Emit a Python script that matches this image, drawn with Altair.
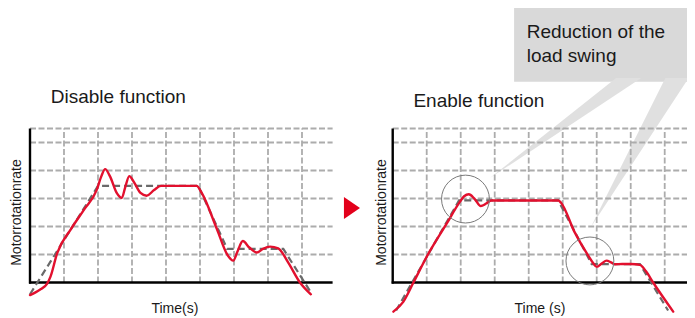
import altair as alt
import pandas as pd

# ---------------- data ----------------
# Left panel: "Disable function" (motor rotation rate vs time, grid units)
dis_x = [0.0, 0.3, 0.5, 0.6, 0.8, 1.2, 1.6, 1.96, 2.1, 2.21, 2.35, 2.55, 2.7,
         2.8, 2.92, 3.05, 3.25, 3.43, 3.65, 3.85, 4.9, 5.05, 5.5, 5.8, 5.98,
         6.1, 6.26, 6.45, 6.67, 6.85, 7.06, 7.3, 7.6, 7.94, 8.26]
dis_y = [-0.45, -0.25, -0.05, 0.2, 1.05, 1.9, 2.62, 3.3, 3.8, 4.05, 3.8, 3.2,
         3.02, 3.4, 3.8, 3.6, 3.2, 3.1, 3.3, 3.45, 3.45, 3.2, 1.9, 1.0, 0.78,
         1.1, 1.48, 1.25, 1.07, 1.2, 1.28, 1.22, 0.7, 0.0, -0.42]
dis_ref_x = [0.0, 2.0, 4.95, 5.8, 7.45, 8.26]
dis_ref_y = [-0.42, 3.45, 3.45, 1.2, 1.2, -0.35]

# Right panel: "Enable function"
en_x = [0.02, 0.31, 0.61, 1.0, 1.59, 1.98, 2.1, 2.24, 2.4, 2.59, 2.75, 2.9,
        3.2, 4.87, 4.95, 5.35, 5.71, 5.9, 6.0, 6.15, 6.29, 6.42, 6.54, 6.75,
        7.0, 7.27, 7.45, 7.66, 8.25]
en_y = [-1.04, -0.69, 0.0, 0.92, 2.11, 2.89, 3.08, 3.15, 3.0, 2.73, 2.82,
        2.93, 2.93, 2.93, 2.85, 1.8, 1.04, 0.69, 0.56, 0.68, 0.78, 0.72, 0.65,
        0.66, 0.66, 0.63, 0.4, 0.0, -1.04]
en_ref_x = [0.1, 1.95, 4.87, 5.85, 7.27, 8.1]
en_ref_y = [-1.0, 2.93, 2.93, 0.66, 0.66, -1.0]

grid_y = [1, 2, 3, 4, 5, 5.5]
grid_x = [1, 2, 3, 4, 5, 6, 7, 8]

panel_titles = ["Disable function", "Enable function"]
x_titles = ["Time(s)", "Time (s)"]
y_title = "Motorrotationrate"
callout_lines = ["Reduction of the", "load swing"]

# ---------------- layout (data-space placement) ----------------
W, H = 679, 310
XMIN = -0.647
XMAX = XMIN + W / 34.0
YMAX = 9.804
YMIN = YMAX - H / 28.0
OFF = 10.668          # horizontal offset of the right panel
X_END = 8.9           # axis length (x)
Y_TOP = 5.5           # axis length (y)

RED = "#e2102e"
GRID = "#acacac"
REF = "#6a6a6a"
FONT = "Liberation Sans"

xs = alt.Scale(domain=[XMIN, XMAX], nice=False, zero=False)
ys = alt.Scale(domain=[YMIN, YMAX], nice=False, zero=False)


def X(field):
    return alt.X(field, type="quantitative", scale=xs, axis=None)


def Y(field):
    return alt.Y(field, type="quantitative", scale=ys, axis=None)


offsets = [0.0, OFF]

# curves
curve_df = pd.DataFrame(
    [{"x": x, "y": y, "p": 0, "o": i} for i, (x, y) in enumerate(zip(dis_x, dis_y))]
    + [{"x": x + OFF, "y": y, "p": 1, "o": i} for i, (x, y) in enumerate(zip(en_x, en_y))]
)
ref_df = pd.DataFrame(
    [{"x": x, "y": y, "p": 0, "o": i} for i, (x, y) in enumerate(zip(dis_ref_x, dis_ref_y))]
    + [{"x": x + OFF, "y": y, "p": 1, "o": i} for i, (x, y) in enumerate(zip(en_ref_x, en_ref_y))]
)

# grid
hgrid_df = pd.DataFrame([{"x": o, "x2": o + X_END, "y": g} for o in offsets for g in grid_y])
vgrid_df = pd.DataFrame([{"x": o + g, "y": 0, "y2": Y_TOP} for o in offsets for g in grid_x])
xaxis_df = pd.DataFrame([{"x": o - 0.03, "x2": o + X_END, "y": 0} for o in offsets])
yaxis_df = pd.DataFrame([{"x": o, "y": -0.04, "y2": Y_TOP} for o in offsets])

# callout decorations (right panel)
box_df = pd.DataFrame([{"x": OFF + 3.57, "x2": OFF + 9.2, "y": 7.17, "y2": 9.85}])
wedge_df = pd.DataFrame([
    {"w": 0, "y": 3.73, "x": OFF + 2.86, "x2": OFF + 2.86},
    {"w": 0, "y": 7.3, "x": OFF + 6.57, "x2": OFF + 7.31},
    {"w": 1, "y": 1.98, "x": OFF + 5.83, "x2": OFF + 5.83},
    {"w": 1, "y": 7.3, "x": OFF + 8.02, "x2": OFF + 8.7},
])
circle_df = pd.DataFrame([{"x": OFF + 2.14, "y": 2.98}, {"x": OFF + 5.80, "y": 0.77}])
arrow_df = pd.DataFrame([{"x": 9.47, "y": 2.66}])

# texts
title_df = pd.DataFrame([
    {"x": 0.61, "y": 6.40, "t": panel_titles[0]},
    {"x": OFF + 0.61, "y": 6.26, "t": panel_titles[1]},
])
xt_df = pd.DataFrame([
    {"x": 4.26, "y": -1.10, "t": x_titles[0]},
    {"x": OFF + 4.33, "y": -1.10, "t": x_titles[1]},
])
yt_df = pd.DataFrame([
    {"x": -0.39, "y": 2.5, "t": y_title},
    {"x": OFF - 0.32, "y": 2.5, "t": y_title},
])
call_df = pd.DataFrame([
    {"x": OFF + 3.94, "y": 8.74, "t": callout_lines[0]},
    {"x": OFF + 3.94, "y": 7.86, "t": callout_lines[1]},
])

layers = [
    alt.Chart(box_df).mark_rect(color="#d9d9d9").encode(x=X("x"), x2="x2", y=Y("y"), y2="y2"),
    alt.Chart(wedge_df).mark_area(orient="horizontal", color="#e0e0e0").encode(
        y=Y("y"), x=X("x"), x2="x2", detail="w:N"),
    alt.Chart(hgrid_df).mark_rule(color=GRID, strokeWidth=2, strokeDash=[6, 2.5]).encode(
        x=X("x"), x2="x2", y=Y("y")),
    alt.Chart(vgrid_df).mark_rule(color=GRID, strokeWidth=1.8, strokeDash=[6, 2.5]).encode(
        x=X("x"), y=Y("y"), y2="y2"),
    alt.Chart(xaxis_df).mark_rule(color="#000000", strokeWidth=2.4).encode(
        x=X("x"), x2="x2", y=Y("y")),
    alt.Chart(yaxis_df).mark_rule(color="#000000", strokeWidth=2.4).encode(
        x=X("x"), y=Y("y"), y2="y2"),
    alt.Chart(ref_df).mark_line(color=REF, strokeWidth=2.2, strokeDash=[7, 4]).encode(
        x=X("x"), y=Y("y"), detail="p:N", order="o:Q"),
    alt.Chart(curve_df).mark_line(color=RED, strokeWidth=2.4, interpolate="monotone",
                                  strokeCap="round", strokeJoin="round").encode(
        x=X("x"), y=Y("y"), detail="p:N", order="o:Q"),
    alt.Chart(circle_df).mark_point(shape="circle", size=2290, filled=False,
                                    color="#7a7a7a", strokeWidth=1, opacity=1).encode(
        x=X("x"), y=Y("y")),
    alt.Chart(arrow_df).mark_point(shape="M-0.73,-1L0.73,0L-0.73,1Z", size=484, filled=True,
                                   color="#e3001b", opacity=1).encode(x=X("x"), y=Y("y")),
    alt.Chart(title_df).mark_text(font=FONT, fontSize=19, align="left", baseline="alphabetic",
                                  color="#1a1a1a").encode(x=X("x"), y=Y("y"), text="t"),
    alt.Chart(xt_df).mark_text(font=FONT, fontSize=14, align="center", baseline="alphabetic",
                               color="#1a1a1a").encode(x=X("x"), y=Y("y"), text="t"),
    alt.Chart(yt_df).mark_text(font=FONT, fontSize=14, align="center", baseline="middle",
                               angle=270, color="#1a1a1a").encode(x=X("x"), y=Y("y"), text="t"),
    alt.Chart(call_df).mark_text(font=FONT, fontSize=19, align="left", baseline="alphabetic",
                                 color="#1a1a1a").encode(x=X("x"), y=Y("y"), text="t"),
]

chart = alt.layer(*layers).properties(
    width=W, height=H, padding=0,
    autosize=alt.AutoSizeParams(type="none"),
    background="white",
).configure_view(stroke=None)

chart.save("out.html", embed_options={"renderer": "svg", "actions": False})
